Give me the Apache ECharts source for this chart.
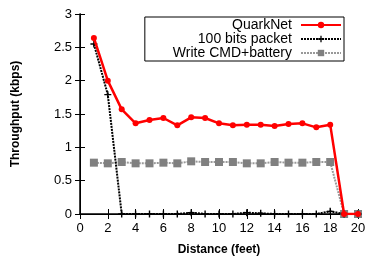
<!DOCTYPE html>
<html>
<head>
<meta charset="utf-8">
<script src="https://cdn.jsdelivr.net/npm/echarts@6/dist/echarts.min.js"></script>
<style>
  html, body { margin: 0; padding: 0; background: #fff; }
  #chart { width: 370px; height: 256px; }
</style>
</head>
<body>
<div id="chart"></div>
<script>
// 距离 (feet)
var distance = [1, 2, 3, 4, 5, 6, 7, 8, 9, 10, 11, 12, 13, 14, 15, 16, 17, 18, 19, 20];
// 吞吐量 (kbps)
var quarkNet = [2.64, 2.0, 1.57, 1.36, 1.41, 1.44, 1.33, 1.45, 1.44, 1.36, 1.33, 1.34, 1.34, 1.32, 1.35, 1.36, 1.30, 1.34, 0, 0];
var bits100 = [2.55, 1.79, 0, 0, 0, 0, 0, 0.02, 0, 0, 0, 0.02, 0.01, 0, 0, 0, 0, 0.04, 0, 0];
var writeCmd = [0.77, 0.76, 0.78, 0.76, 0.76, 0.77, 0.76, 0.79, 0.78, 0.78, 0.78, 0.76, 0.76, 0.78, 0.77, 0.77, 0.78, 0.78, 0, 0];

function pairs(ys) {
  return distance.map(function (x, i) { return [x, ys[i]]; });
}

(function () {
  var myChart = echarts.init(document.getElementById('chart'));
  var font = 'Liberation Sans, Arial, Helvetica, sans-serif';
  var plusPath = 'path://M4,0H6V4H10V6H6V10H4V6H0V4H4Z';
  var tickStyle = { show: true, inside: true, length: 5, lineStyle: { color: '#000', width: 1 } };
  var option = {
    animation: false,
    textStyle: { fontFamily: font },
    grid: { left: 80, right: 12, top: 14, bottom: 42, containLabel: false, outerBoundsMode: 'none' },
    legend: {
      right: 26,
      top: 17,
      orient: 'vertical',
      align: 'right',
      itemWidth: 40,
      itemHeight: 8,
      itemGap: 0,
      padding: [1, 2, 1, 28],
      borderColor: '#000',
      borderWidth: 1,
      borderRadius: 0,
      backgroundColor: '#fff',
      textStyle: { fontFamily: font, fontSize: 14, lineHeight: 14, color: '#000', padding: [0, 4, 0, 0] },
      data: ['QuarkNet', '100 bits packet', 'Write CMD+battery']
    },
    xAxis: [
      {
        type: 'value',
        min: 0,
        max: 20,
        interval: 2,
        name: 'Distance (feet)',
        nameLocation: 'middle',
        nameGap: 30,
        nameTextStyle: { fontFamily: font, fontSize: 12, fontWeight: 'bold', color: '#000' },
        axisLine: { lineStyle: { color: '#000', width: 1.5 } },
        axisTick: tickStyle,
        axisLabel: { fontFamily: font, fontSize: 13, color: '#000', margin: 8 },
        splitLine: { show: false }
      },
      {
        type: 'value',
        position: 'top',
        min: 0,
        max: 20,
        interval: 2,
        axisLine: { show: true, lineStyle: { color: '#000', width: 1 } },
        axisTick: tickStyle,
        axisLabel: { show: false },
        splitLine: { show: false }
      }
    ],
    yAxis: [
      {
        type: 'value',
        min: 0,
        max: 3,
        interval: 0.5,
        name: 'Throughput (kbps)',
        nameLocation: 'middle',
        nameGap: 58,
        nameTextStyle: { fontFamily: font, fontSize: 12, fontWeight: 'bold', color: '#000' },
        axisLine: { show: true, lineStyle: { color: '#000', width: 1.5 } },
        axisTick: tickStyle,
        axisLabel: { fontFamily: font, fontSize: 13, color: '#000', margin: 8 },
        splitLine: { show: false }
      },
      {
        type: 'value',
        position: 'right',
        min: 0,
        max: 3,
        interval: 0.5,
        axisLine: { show: true, lineStyle: { color: '#000', width: 1 } },
        axisTick: tickStyle,
        axisLabel: { show: false },
        splitLine: { show: false }
      }
    ],
    series: [
      {
        name: 'Write CMD+battery',
        type: 'line',
        data: pairs(writeCmd),
        symbol: 'rect',
        symbolSize: 8,
        z: 2,
        itemStyle: { color: '#808080' },
        lineStyle: { color: '#999', width: 2, type: [2, 1] }
      },
      {
        name: '100 bits packet',
        type: 'line',
        data: pairs(bits100),
        symbol: plusPath,
        symbolSize: 7,
        z: 3,
        itemStyle: { color: '#000' },
        lineStyle: { color: '#000', width: 2, type: [2, 1] }
      },
      {
        name: 'QuarkNet',
        type: 'line',
        data: pairs(quarkNet),
        symbol: 'circle',
        symbolSize: 6,
        z: 4,
        itemStyle: { color: '#ff0000' },
        lineStyle: { color: '#ff0000', width: 2.5 }
      }
    ]
  };
  myChart.setOption(option);
  window.addEventListener('resize', function () {
    myChart.resize();
  });
})();
</script>
</body>
</html>
